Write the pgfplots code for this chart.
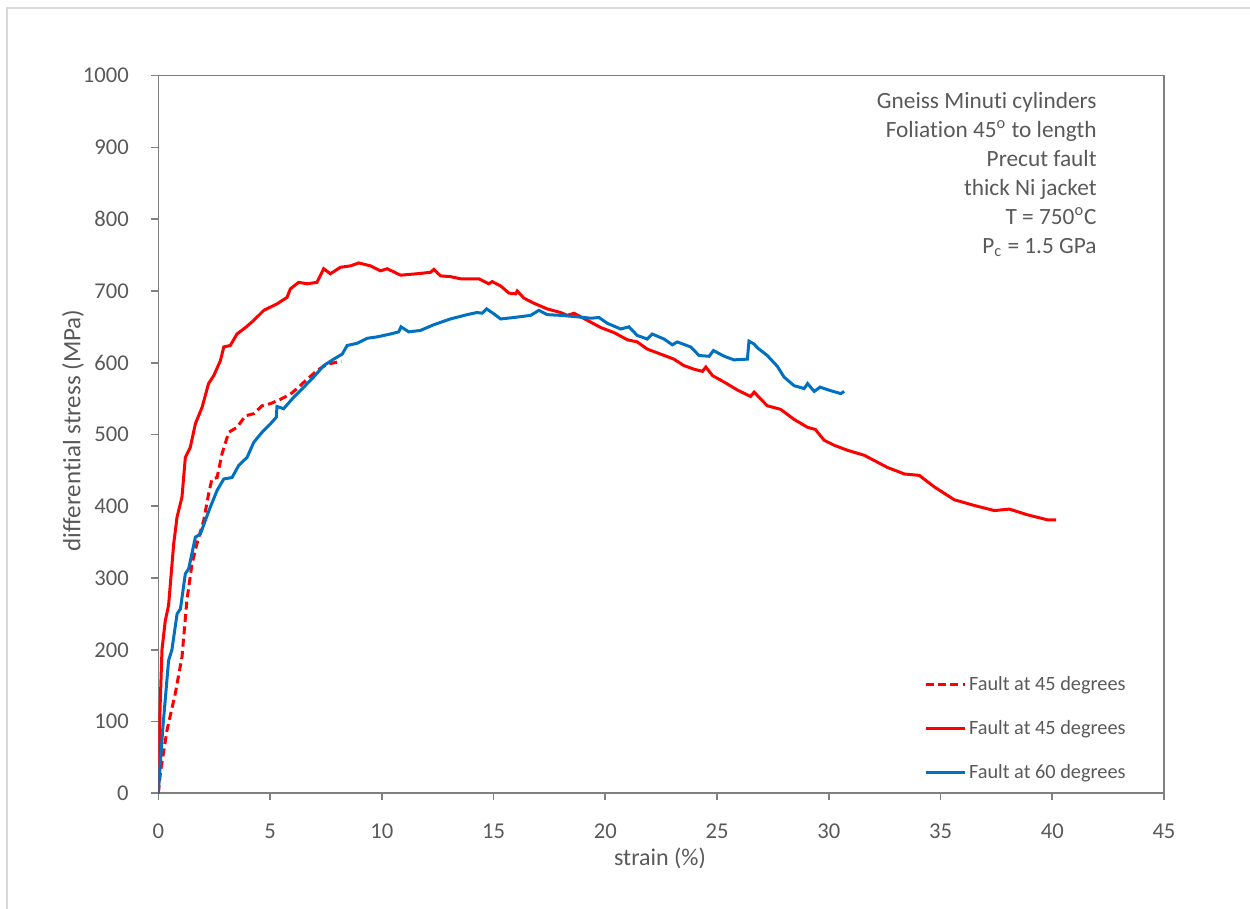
\documentclass[border=0pt]{standalone}
\usepackage{pgfplots}
\pgfplotsset{compat=1.18}
\usepackage{fontspec}
\setmainfont[Ligatures=NoCommon]{Carlito}
\definecolor{txt}{HTML}{595959}
\definecolor{axc}{HTML}{808080}
\definecolor{frm}{HTML}{D9D9D9}
\definecolor{myred}{HTML}{FF0000}
\definecolor{myblue}{HTML}{0070C0}
\begin{document}
\begin{tikzpicture}
\useasboundingbox (0,0) rectangle (625pt,454.5pt);
\draw[frm, line width=0.6pt] (3.5pt,0) -- (3.5pt,450.5pt) -- (625pt,450.5pt);
\begin{axis}[
  at={(79.15pt,57.85pt)}, anchor=south west,
  width=502.85pt, height=358.8pt, scale only axis,
  xmin=0, xmax=45, ymin=0, ymax=1000,
  xtick distance=5, ytick distance=100,
  tick align=outside, major tick length=3.5pt,
  axis line style={axc, line width=0.8pt},
  tick style={axc, line width=0.8pt},
  xtick pos=bottom, ytick pos=left,
  /pgf/number format/assume math mode=true,
  /pgf/number format/set thousands separator={},
  ticklabel style={font=\fontsize{11.3pt}{13pt}\selectfont, text=txt, inner sep=0pt},
  yticklabel style={anchor=east, xshift=-11.1pt},
  xticklabel style={anchor=north, yshift=-11.7pt},
  legend style={draw=none, fill=none, at={(rel axis cs:0.761,0.168)}, anchor=north west,
    font=\fontsize{10.15pt}{12pt}\selectfont, text=txt, row sep=10.5pt, inner sep=0pt,
    nodes={inner sep=1.5pt}},
  legend cell align=left,
  legend image code/.code={\draw[#1] (0pt,0pt) -- (19.5pt,0pt);},
]
\addplot[myred, line width=1.5pt, dash pattern=on 4pt off 2.2pt] coordinates {
(0,0) (0.1,30) (0.39,88) (0.76,139) (1.06,190) (1.28,269) (1.51,320) (1.73,348)
(2.03,380) (2.25,417) (2.4,438) (2.63,440) (2.85,473) (3.15,503) (3.52,510)
(3.9,526) (4.27,529) (4.64,540) (5.02,543) (5.46,549) (5.91,556) (6.28,566)
(6.66,577) (7.1,589) (7.55,598) (8.2,602)
};
\addlegendentry{Fault at 45 degrees}
\addplot[myred, line width=1.5pt] coordinates {
(0,0) (0.08,120) (0.165,200) (0.31,240) (0.46,262) (0.69,348) (0.84,385) (1.06,413)
(1.21,468) (1.43,482) (1.66,515) (1.96,538) (2.25,571) (2.48,582) (2.78,603)
(2.93,622) (3.22,624) (3.52,640) (3.9,649) (4.27,659) (4.72,673) (5.31,682)
(5.76,691) (5.91,703) (6.28,712) (6.66,710) (7.1,712) (7.4,731) (7.7,724)
(8.15,733) (8.6,735) (8.97,739) (9.49,735) (9.94,728) (10.24,731) (10.84,722)
(11.58,724) (12.18,726) (12.33,730) (12.63,721) (13.07,720) (13.52,717)
(14.34,717) (14.79,710) (14.94,713) (15.32,707) (15.69,697) (15.99,696)
(16.06,700) (16.36,690) (16.8,683) (17.4,675) (18,670) (18.3,666) (18.6,669)
(19.2,659) (19.8,649) (20.39,642) (20.99,632) (21.43,629) (21.88,619)
(22.48,612) (23.07,605) (23.52,596) (23.97,591) (24.35,588) (24.5,594)
(24.8,582) (25.32,573) (25.91,562) (26.5,553) (26.66,559) (27.25,540)
(27.85,535) (28.45,521) (29.05,510) (29.4,507) (29.79,492) (30.24,485)
(30.84,478) (31.59,471) (32.63,454) (33.38,445) (34.05,443) (34.72,427)
(35.62,409) (36.52,401) (37.41,394) (38.08,396) (38.9,388) (39.8,381) (40.17,381)
};
\addlegendentry{Fault at 45 degrees}
\addplot[myblue, line width=1.5pt] coordinates {
(0,0) (0.2,90) (0.46,185) (0.61,200) (0.84,250) (0.99,257) (1.21,306) (1.36,313)
(1.66,357) (1.88,361) (2.1,380) (2.33,399) (2.63,422) (2.93,438) (3.3,440)
(3.6,457) (3.97,468) (4.27,489) (4.64,503) (5.02,515) (5.28,524) (5.31,539)
(5.61,536) (6.06,552) (6.51,566) (6.95,580) (7.4,596) (7.85,605) (8.23,612)
(8.45,624) (8.89,627) (9.34,634) (9.79,636) (10.38,640) (10.76,643) (10.86,650)
(11.21,643) (11.73,645) (12.33,653) (13.07,661) (13.82,667) (14.26,670)
(14.49,669) (14.69,675) (15.02,668) (15.32,661) (15.91,663) (16.66,666)
(17.03,673) (17.4,667) (18,666) (18.75,664) (19.35,662) (19.72,663)
(20.09,655) (20.69,647) (21.06,650) (21.43,638) (21.88,633) (22.1,640)
(22.63,633) (23,625) (23.22,629) (23.82,622) (24.2,610) (24.65,609)
(24.84,617) (25.32,609) (25.76,604) (26.36,605) (26.43,630) (26.66,626)
(26.8,621) (27.25,610) (27.7,595) (28,580) (28.45,568) (28.9,564) (29.05,571)
(29.35,560) (29.61,566) (30.09,561) (30.54,557) (30.69,560)
};
\addlegendentry{Fault at 60 degrees}
\node[anchor=north east, align=right, inner sep=0pt, text=txt,
  font=\fontsize{11.65pt}{14.5pt}\selectfont] at (axis cs:42.0,978)
  {Gneiss Minuti cylinders\\
   Foliation 45\textsuperscript{o} to length\\
   Precut fault\\
   thick Ni jacket\\
   T = 750\textsuperscript{o}C\\
   P\textsubscript{c} = 1.5 GPa};
\end{axis}
\node[rotate=90, text=txt, font=\fontsize{12.5pt}{14pt}\selectfont] at (36.5pt,239.25pt) {differential stress (MPa)};
\node[text=txt, font=\fontsize{12pt}{14pt}\selectfont] at (330pt,25.5pt) {strain (\%)};
\end{tikzpicture}
\end{document}
